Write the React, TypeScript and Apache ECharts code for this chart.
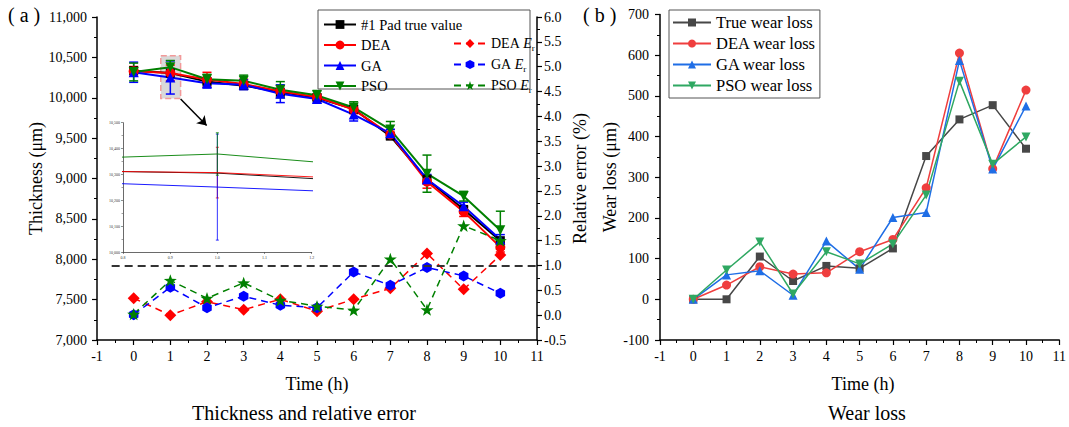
import React, { useEffect, useRef } from 'react';
import * as echarts from 'echarts';

const SERIF = 'Liberation Serif';

// ---------- data ----------
const times = [0, 1, 2, 3, 4, 5, 6, 7, 8, 9, 10];
const trueThk = [10335, 10305, 10200, 10150, 10070, 10000, 9860, 9525, 8990, 8617, 8230];
const deaThk = [10327, 10307, 10225, 10170, 10080, 10010, 9853, 9545, 8960, 8590, 8150];
const gaThk = [10316, 10251, 10180, 10160, 10050, 9985, 9792, 9560, 8990, 8657, 8245];
const psoThk = [10319, 10379, 10230, 10210, 10100, 10030, 9880, 9606, 9060, 8781, 8360];
const deaErrBar = [60, 98, 90, 60, 70, 40, 50, 60, 80, 60, 60];
const gaErrBar = [125, 205, 60, 60, 110, 50, 80, 50, 60, 50, 60];
const psoErrBar = [110, 82, 60, 70, 100, 60, 70, 100, 230, 60, 235];

const deaEr = [0.34, 0.0, 0.27, 0.11, 0.32, 0.08, 0.32, 0.54, 1.24, 0.52, 1.21];
const gaEr = [0.01, 0.56, 0.15, 0.38, 0.2, 0.15, 0.87, 0.6, 0.96, 0.79, 0.44];
const psoEr = [0.02, 0.7, 0.34, 0.65, 0.3, 0.18, 0.1, 1.13, 0.11, 1.8, 1.5];

const trueWear = [0, 0, 105, 45, 82, 76, 125, 352, 442, 477, 370];
const deaWear = [0, 35, 80, 62, 65, 117, 147, 274, 605, 321, 514];
const gaWear = [0, 60, 70, 10, 143, 74, 201, 213, 587, 320, 475];
const psoWear = [0, 72, 141, 13, 117, 87, 136, 256, 536, 332, 399];

const errRefLine = 1.0;
const zoomBox = [[0.74, 10520], [1.28, 9990]];
const arrowFrom = [1.28, 9985];
const arrowTo = [1.99, 9656];

const STAR = 'path://M0,-10L2.35,-3.24L9.51,-3.09L3.8,1.24L5.88,8.09L0,4L-5.88,8.09L-3.8,1.24L-9.51,-3.09L-2.35,-3.24Z';
const HEX = 'path://M0,-10L8.66,-5L8.66,5L0,10L-8.66,5L-8.66,-5Z';

const pairs = (v: number[]) => times.map((t, i) => [t, v[i]]);
const triples = (v: number[], e: number[]) => times.map((t, i) => [t, v[i], e[i]]);

function errSeries(name: string, color: string, vals: number[], errs: number[], xi: number, yi: number, cap: number, lw: number, range?: [number, number]) {
  let data = triples(vals, errs);
  if (range) data = data.filter((d) => d[0] >= range[0] && d[0] <= range[1]);
  return {
    type: 'custom',
    name,
    xAxisIndex: xi,
    yAxisIndex: yi,
    z: 1,
    clip: true,
    encode: { x: 0, y: 1 },
    data,
    renderItem: (params: any, api: any) => {
      const x = api.value(0);
      const y = api.value(1);
      const e = api.value(2);
      const top = api.coord([x, y + e]);
      const bot = api.coord([x, y - e]);
      const st = { stroke: color, lineWidth: lw, fill: 'none' };
      return {
        type: 'group',
        children: [
          { type: 'line', shape: { x1: top[0], y1: top[1], x2: bot[0], y2: bot[1] }, style: st },
          { type: 'line', shape: { x1: top[0] - cap, y1: top[1], x2: top[0] + cap, y2: top[1] }, style: st },
          { type: 'line', shape: { x1: bot[0] - cap, y1: bot[1], x2: bot[0] + cap, y2: bot[1] }, style: st },
        ],
      };
    },
  };
}

const axisCommon = {
  splitLine: { show: false },
  axisLine: { show: true, onZero: false, lineStyle: { color: '#000', width: 1.5 } },
  axisTick: { show: true, length: 5, lineStyle: { color: '#000', width: 1.2 } },
  minorTick: { show: true, splitNumber: 2, length: 3, lineStyle: { color: '#000', width: 1 } },
  axisLabel: { color: '#000', fontFamily: SERIF, fontSize: 14 },
  nameTextStyle: { color: '#000', fontFamily: SERIF, fontSize: 18, fontWeight: 'normal' },
};

const insetAxisLine = { show: true, onZero: false, lineStyle: { color: '#444', width: 0.8 } };

const erRich = {
  n: { fontFamily: SERIF, fontSize: 14, color: '#000' },
  i: { fontFamily: SERIF, fontSize: 14, fontStyle: 'italic', color: '#000' },
  s: { fontFamily: SERIF, fontSize: 9, color: '#000', padding: [8, 0, 0, 0] },
};

const option: any = {
  animation: false,
  backgroundColor: '#fff',
  textStyle: { fontFamily: SERIF },
  grid: [
    { left: 97, top: 17, width: 440, height: 323 },
    { left: 123, top: 122.7, width: 188.7, height: 129.3 },
    { left: 660, top: 14.4, width: 406, height: 325.6 },
  ],
  xAxis: [
    {
      ...axisCommon, gridIndex: 0, type: 'value', min: -1, max: 11, interval: 1,
      axisLabel: { ...axisCommon.axisLabel, margin: 9 },
    },
    {
      ...axisCommon, gridIndex: 1, type: 'value', min: 0.8, max: 1.2, interval: 0.1,
      axisLine: insetAxisLine,
      axisTick: { show: true, length: 2, lineStyle: { color: '#444', width: 0.6 } },
      minorTick: { show: false },
      axisLabel: { color: '#333', fontFamily: SERIF, fontSize: 4, margin: 3, formatter: (v: number) => v.toFixed(1) },
    },
    {
      ...axisCommon, gridIndex: 2, type: 'value', min: -1, max: 11, interval: 1,
      axisLabel: { ...axisCommon.axisLabel, margin: 9 },
    },
  ],
  yAxis: [
    {
      ...axisCommon, gridIndex: 0, type: 'value', min: 7000, max: 11000, interval: 500,
      name: 'Thickness (μm)', nameLocation: 'middle', nameGap: 49,
      axisLabel: { ...axisCommon.axisLabel, margin: 10, formatter: (v: number) => v.toLocaleString('en-US') },
    },
    {
      ...axisCommon, gridIndex: 0, type: 'value', position: 'right', min: -0.5, max: 6, interval: 0.5,
      name: 'Relative error (%)', nameLocation: 'middle', nameGap: 34, nameRotate: 90,
      axisLabel: { ...axisCommon.axisLabel, margin: 7, formatter: (v: number) => v.toFixed(1) },
    },
    {
      ...axisCommon, gridIndex: 1, type: 'value', min: 10000, max: 10500, interval: 100,
      axisLine: insetAxisLine,
      axisTick: { show: true, length: 2, lineStyle: { color: '#444', width: 0.6 } },
      minorTick: { show: true, splitNumber: 2, length: 1.5, lineStyle: { color: '#444', width: 0.5 } },
      axisLabel: { color: '#333', fontFamily: SERIF, fontSize: 4, margin: 3, formatter: (v: number) => v.toLocaleString('en-US') },
    },
    {
      ...axisCommon, gridIndex: 2, type: 'value', min: -100, max: 700, interval: 100,
      name: 'Wear loss (μm)', nameLocation: 'middle', nameGap: 38,
      axisLabel: { ...axisCommon.axisLabel, margin: 11 },
    },
  ],
  legend: [
    {
      data: ['#1 Pad true value', 'DEA', 'GA', 'PSO'],
      orient: 'vertical', left: 318, top: 12, itemWidth: 32, itemHeight: 11, itemGap: 5.5,
      textStyle: { fontFamily: SERIF, fontSize: 14.5, color: '#000', lineHeight: 14 },
      z: 5,
    },
    {
      data: ['DEA Er', 'GA Er', 'PSO Er'],
      orient: 'vertical', left: 448, top: 31.5, itemWidth: 32, itemHeight: 11, itemGap: 5.5,
      formatter: (name: string) => `{n|${name.slice(0, -3)} }{i|E}{s|r}`,
      textStyle: { fontFamily: SERIF, fontSize: 14, color: '#000', lineHeight: 14, rich: erRich },
      z: 5,
    },
    {
      data: ['True wear loss', 'DEA wear loss', 'GA wear loss', 'PSO wear loss'],
      orient: 'vertical', left: 669, top: 10, itemWidth: 38, itemHeight: 10, itemGap: 4,
      padding: [4, 4, 4, 3],
      borderColor: '#555', borderWidth: 1, backgroundColor: '#fff',
      textStyle: { fontFamily: SERIF, fontSize: 16.5, color: '#000' },
    },
  ],
  graphic: [
    { type: 'rect', z: 3, shape: { x: 318, y: 10, width: 212, height: 79 }, style: { fill: '#fff', stroke: '#555', lineWidth: 1 } },
    { type: 'text', left: 8, top: 5, style: { text: '( a )', fontFamily: SERIF, fontSize: 20, fill: '#000' } },
    { type: 'text', left: 583, top: 5, style: { text: '( b )', fontFamily: SERIF, fontSize: 20, fill: '#000' } },
    { type: 'text', x: 317, y: 384, style: { text: 'Time (h)', fontFamily: SERIF, fontSize: 18, fontWeight: 'normal', fill: '#000', textAlign: 'center', textVerticalAlign: 'middle' } },
    { type: 'text', x: 863, y: 384, style: { text: 'Time (h)', fontFamily: SERIF, fontSize: 18, fontWeight: 'normal', fill: '#000', textAlign: 'center', textVerticalAlign: 'middle' } },
    { type: 'text', x: 304, y: 413, style: { text: 'Thickness and relative error', fontFamily: SERIF, fontSize: 20, fill: '#000', textAlign: 'center', textVerticalAlign: 'middle' } },
    { type: 'text', x: 867, y: 413, style: { text: 'Wear loss', fontFamily: SERIF, fontSize: 20, fill: '#000', textAlign: 'center', textVerticalAlign: 'middle' } },
  ],
  series: [
    // error bars (main)
    errSeries('DEA err', '#ff0000', deaThk, deaErrBar, 0, 0, 4.5, 1.5),
    errSeries('GA err', '#0000ff', gaThk, gaErrBar, 0, 0, 4.5, 1.5),
    errSeries('PSO err', '#008000', psoThk, psoErrBar, 0, 0, 4.5, 1.5),
    // thickness lines
    {
      type: 'line', name: '#1 Pad true value', xAxisIndex: 0, yAxisIndex: 0, data: pairs(trueThk),
      symbol: 'rect', symbolSize: 9, lineStyle: { color: '#000', width: 2 }, itemStyle: { color: '#000' }, z: 3,
    },
    {
      type: 'line', name: 'DEA', xAxisIndex: 0, yAxisIndex: 0, data: pairs(deaThk),
      symbol: 'circle', symbolSize: 10, lineStyle: { color: '#ff0000', width: 2 }, itemStyle: { color: '#ff0000' }, z: 3,
    },
    {
      type: 'line', name: 'GA', xAxisIndex: 0, yAxisIndex: 0, data: pairs(gaThk),
      symbol: 'triangle', symbolSize: 10, lineStyle: { color: '#0000ff', width: 2 }, itemStyle: { color: '#0000ff' }, z: 3,
    },
    {
      type: 'line', name: 'PSO', xAxisIndex: 0, yAxisIndex: 0, data: pairs(psoThk),
      symbol: 'triangle', symbolRotate: 180, symbolSize: 10, lineStyle: { color: '#008000', width: 2 }, itemStyle: { color: '#008000' }, z: 3,
      markArea: {
        silent: true,
        itemStyle: { color: 'rgba(185,185,185,0.55)', borderColor: '#f29a9a', borderType: 'dashed', borderWidth: 1.5 },
        data: [[{ xAxis: zoomBox[0][0], yAxis: zoomBox[0][1] }, { xAxis: zoomBox[1][0], yAxis: zoomBox[1][1] }]],
      },
      markLine: {
        silent: true, symbol: ['none', 'arrow'], symbolSize: 9,
        label: { show: false },
        lineStyle: { color: '#000', width: 1.5, type: 'solid' },
        data: [[{ coord: arrowFrom }, { coord: arrowTo }]],
      },
    },
    // relative error
    {
      type: 'line', name: 'DEA Er', xAxisIndex: 0, yAxisIndex: 1, data: pairs(deaEr),
      symbol: 'diamond', symbolSize: 12, lineStyle: { color: '#ff0000', width: 1.5, type: [7, 5] }, itemStyle: { color: '#ff0000' }, z: 4,
      markLine: {
        silent: true, symbol: ['none', 'none'], label: { show: false },
        lineStyle: { color: '#333', width: 1.8, type: [8, 5] },
        data: [[{ coord: [-0.6, errRefLine] }, { coord: [11, errRefLine] }]],
      },
    },
    {
      type: 'line', name: 'GA Er', xAxisIndex: 0, yAxisIndex: 1, data: pairs(gaEr),
      symbol: HEX, symbolKeepAspect: true, symbolSize: 11, lineStyle: { color: '#0000ff', width: 1.5, type: [7, 5] }, itemStyle: { color: '#0000ff' }, z: 4,
    },
    {
      type: 'line', name: 'PSO Er', xAxisIndex: 0, yAxisIndex: 1, data: pairs(psoEr),
      symbol: STAR, symbolKeepAspect: true, symbolSize: 13, lineStyle: { color: '#008000', width: 1.5, type: [7, 5] }, itemStyle: { color: '#008000' }, z: 4,
    },
    // inset
    errSeries('inset DEA err', '#ff0000', deaThk, deaErrBar, 1, 2, 1.5, 0.8, [0.8, 1.2]),
    errSeries('inset GA err', '#0000ff', gaThk, gaErrBar, 1, 2, 1.5, 0.8, [0.8, 1.2]),
    errSeries('inset PSO err', '#008000', psoThk, psoErrBar, 1, 2, 1.5, 0.8, [0.8, 1.2]),
    { type: 'line', name: 'inset true', xAxisIndex: 1, yAxisIndex: 2, data: pairs(trueThk), clip: true, symbol: 'none', lineStyle: { color: '#000', width: 0.9 } },
    { type: 'line', name: 'inset DEA', xAxisIndex: 1, yAxisIndex: 2, data: pairs(deaThk), clip: true, symbol: 'none', lineStyle: { color: '#ff0000', width: 0.9 } },
    { type: 'line', name: 'inset GA', xAxisIndex: 1, yAxisIndex: 2, data: pairs(gaThk), clip: true, symbol: 'none', lineStyle: { color: '#0000ff', width: 0.9 } },
    { type: 'line', name: 'inset PSO', xAxisIndex: 1, yAxisIndex: 2, data: pairs(psoThk), clip: true, symbol: 'none', lineStyle: { color: '#008000', width: 0.9 } },
    // wear loss
    {
      type: 'line', name: 'True wear loss', xAxisIndex: 2, yAxisIndex: 3, data: pairs(trueWear),
      symbol: 'rect', symbolSize: 8, lineStyle: { color: '#474747', width: 1.5 }, itemStyle: { color: '#474747' },
    },
    {
      type: 'line', name: 'DEA wear loss', xAxisIndex: 2, yAxisIndex: 3, data: pairs(deaWear),
      symbol: 'circle', symbolSize: 9, lineStyle: { color: '#ef3e3e', width: 1.5 }, itemStyle: { color: '#ef3e3e' },
    },
    {
      type: 'line', name: 'GA wear loss', xAxisIndex: 2, yAxisIndex: 3, data: pairs(gaWear),
      symbol: 'triangle', symbolSize: 9, lineStyle: { color: '#1f6ee6', width: 1.5 }, itemStyle: { color: '#1f6ee6' },
    },
    {
      type: 'line', name: 'PSO wear loss', xAxisIndex: 2, yAxisIndex: 3, data: pairs(psoWear),
      symbol: 'triangle', symbolRotate: 180, symbolSize: 9, lineStyle: { color: '#2fa862', width: 1.5 }, itemStyle: { color: '#2fa862' },
    },
  ],
};

export default function App() {
  const ref = useRef<HTMLDivElement>(null);
  useEffect(() => {
    const chart = echarts.init(ref.current!, null, { renderer: 'svg' });
    chart.setOption(option);
    return () => chart.dispose();
  }, []);
  return <div ref={ref} style={{ position: 'fixed', left: 0, top: 0, width: 1069, height: 427, background: '#fff' }} />;
}
